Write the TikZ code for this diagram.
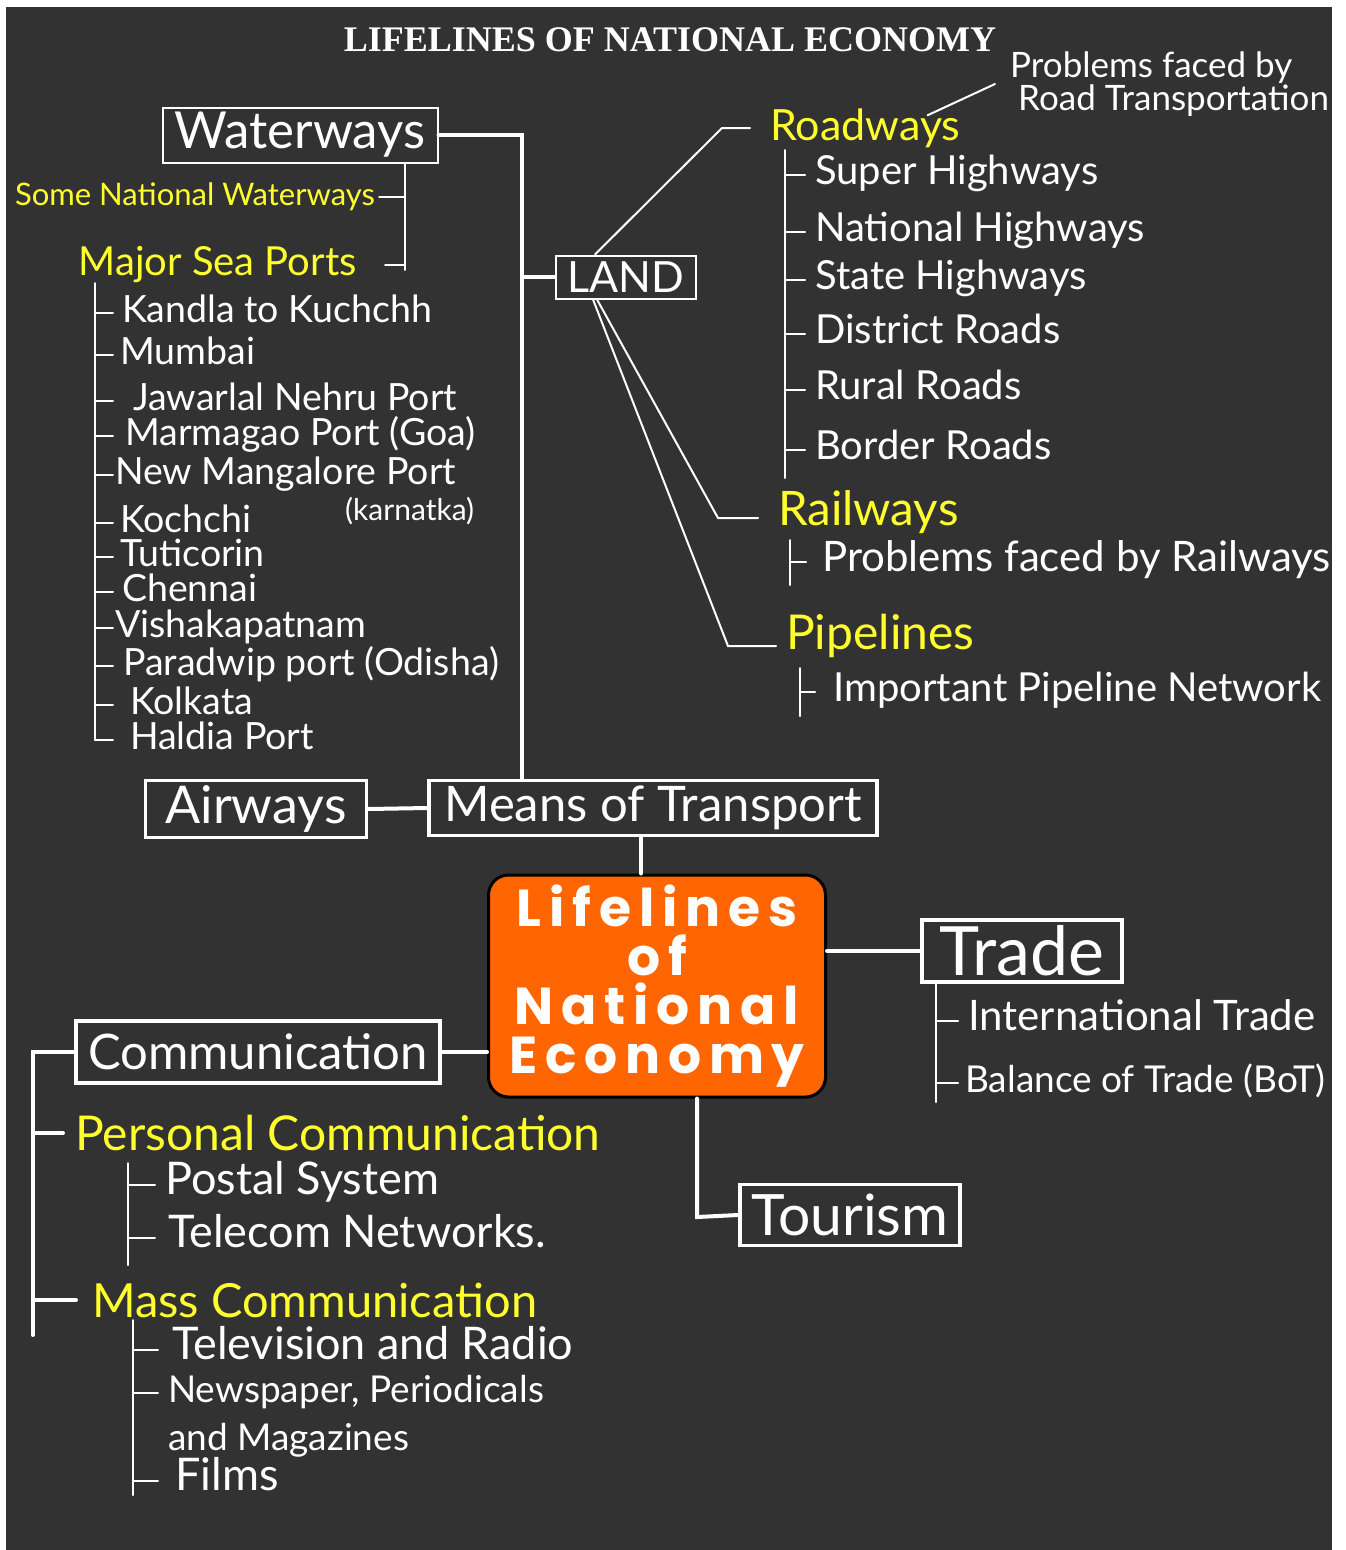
\documentclass[tikz,border=0pt]{standalone}
\usepackage{fontspec}
\setmainfont{Lato}
\newfontfamily\titlefont{Liberation Serif}
\newfontfamily\chalkfont{Poppins}[LetterSpace=15]
\usetikzlibrary{positioning}
\definecolor{board}{HTML}{323232}
\definecolor{chalkyellow}{HTML}{FFFF2E}
\definecolor{boxorange}{HTML}{FF6501}
\newcommand\fsz[1]{\fontsize{#1}{#1}\selectfont}

\begin{document}
\begin{tikzpicture}[x=1pt, y=-1pt, line cap=round,
    box/.style={draw=white, line width=3.5, text=white, inner sep=0pt, font=\fsz{#1}},
    box/.default=50,
    head/.style={anchor=west, inner sep=0pt, text=chalkyellow, font=\fsz{#1}},
    head/.default=46,
    item/.style={anchor=west, inner sep=0pt, text=white, font=\fsz{40}, text height=29, text depth=10},
    port/.style={item, font=\fsz{37.5}, text height=27, text depth=9},
    talk/.style={item, font=\fsz{45}},
    core/.style={fill=boxorange, draw=black, line width=3, rounded corners=20,
        minimum width=337, minimum height=222, align=center, text=white,
        font=\chalkfont\bfseries\fontsize{52}{49}\selectfont},
    trunk/.style={white, line width=4},
    twig/.style={white, line width=2}]
    \fill[white] (0,0) rectangle (1346,1550);
    \fill[board] (6,7) rectangle (1332,1550);
    \useasboundingbox (0,0) rectangle (1346,1550);

    \node[text=white, font=\titlefont\bfseries\fsz{36}] (title) at (670,40) {LIFELINES OF NATIONAL ECONOMY};

    % boxes
    \node[box=51, minimum width=275, minimum height=55, line width=2] (water) at (300,135) {Waterways};
    \node[box=43, minimum width=140, minimum height=43, line width=2] (land) at (626,277) {LAND};
    \node[box=52, minimum width=221, minimum height=57] (air) at (256,809) {Airways};
    \node[box=49, minimum width=448, minimum height=55] (means) at (653,808) {Means of Transport};
    \node[core] (core) at (657,986) {Lifelines\\of\\National\\Economy};
    \node[box=68, minimum width=200, minimum height=62] (trade) at (1022,951) {Trade};
    \node[box=57, minimum width=220, minimum height=61] (tour) at (850,1215) {Tourism};
    \node[box=49, minimum width=364, minimum height=62] (comm) at (258,1052) {Communication};

    % yellow headings
    \node[head=31, anchor=east] (natwater) at (375,197) {Some National Waterways};
    \node[head=40, anchor=east] (seaports) at (357,265) {Major Sea Ports};
    \node[head=43] (roadways) at (770,128) {Roadways};
    \node[head=47.5] (railways) at (778,512) {Railways};
    \node[head=48] (pipelines) at (786,636) {Pipelines};
    \node[head=48] (personal) at (75,1133) {Personal Communication};
    \node[head=47] (mass) at (92,1300) {Mass Communication};

    \node[anchor=west, inner sep=0pt, text=white, align=left, font=\fontsize{35}{33}\selectfont]
        (roadprob) at (1010,84) {Problems faced by\\\hspace{8pt}Road Transportation};
    \draw[twig] ([shift={(-33,7)}]roadways.north east) -- ([xshift=-15]roadprob.west);

    % trunk lines
    \coordinate (trunkx) at (522,135);
    \draw[trunk] (water.east) -- (trunkx) -- (trunkx |- means.north);
    \draw[trunk] (trunkx |- land.west) -- (land.west);
    \draw[trunk] (air.east) -- (means.west);
    \draw[trunk] ([xshift=-12]means.south) -- ([xshift=-12]means.south |- core.north);
    \draw[trunk] (trade.west -| core.east) -- (trade.west);
    \draw[trunk] (comm.east) -- (comm.east -| core.west);
    \coordinate (tourbend) at (697,1217);
    \draw[trunk] (core.south -| tourbend) -- (tourbend) -- (tour.west);

    % waterways
    \coordinate (wsub) at (405,270);
    \draw[twig] (water.south -| wsub) -- (wsub);
    \draw[twig] ([xshift=4]natwater.east) -- (natwater.east -| wsub);
    \draw[twig] ([xshift=28]seaports.east) -- (seaports.east -| wsub);
    \coordinate (portspine) at (95,283);
    \foreach \y/\x/\txt [count=\i] in {313/122/Kandla to Kuchchh, 355/120/Mumbai,
        401/133/Jawarlal Nehru Port, 436/125/Marmagao Port (Goa), 475/115/New Mangalore Port,
        523/120/Kochchi, 557/120/Tuticorin, 592/122/Chennai, 628/115/Vishakapatnam,
        666/123/Paradwip port (Odisha), 705/130/Kolkata, 740/130/Haldia Port} {
        \node[port] (port\i) at (\x,\y) {\txt};
        \draw[twig] (port\i.west -| portspine) -- ++(18,0);
    }
    \node[anchor=west, inner sep=0pt, text=white, font=\fsz{30}] (karnatka) at (345,511) {(karnatka)};
    \draw[twig] (portspine) -- (portspine |- port12.west);

    % land
    \coordinate (roadbend) at (722,125);
    \coordinate (railbend) at (718,518);
    \coordinate (railend) at (758,518);
    \coordinate (pipebend) at (728,646);
    \coordinate (pipeend) at (776,646);
    \draw[twig] ([xshift=-31]land.north) -- (roadbend |- roadways.west) -- ([xshift=-20]roadways.west);
    \draw[twig] ([xshift=-29]land.south) -- (railbend) -- (railend);
    \draw[twig] ([xshift=-33]land.south) -- (pipebend) -- (pipeend);

    \coordinate (roadspine) at (785,150);
    \foreach \y/\txt [count=\i] in {175/Super Highways, 232/National Highways, 280/State Highways,
        334/District Roads, 390/Rural Roads, 450/Border Roads} {
        \node[item] (road\i) at (815,\y) {\txt};
        \draw[twig] (road\i.west -| roadspine) -- ++(20,0);
    }
    \draw[twig] (roadspine) -- ([yshift=-28]roadspine |- road6.west);

    \node[item, font=\fsz{42}] (railprob) at (822,562) {Problems faced by Railways};
    \coordinate (railspine) at (790,540);
    \draw[twig] (railspine) -- ([yshift=-23]railspine |- railprob.west);
    \draw[twig] (railprob.west -| railspine) -- ++(16,0);

    \node[item] (pipenet) at (833,692) {Important Pipeline Network};
    \coordinate (pipespine) at (800,668);
    \draw[twig] (pipespine) -- ([yshift=-24]pipespine |- pipenet.west);
    \draw[twig] (pipenet.west -| pipespine) -- ++(15,0);

    % trade
    \coordinate (tradespine) at (936,982);
    \foreach \y/\x/\s/\txt [count=\i] in {1021/968/42/International Trade, 1083/965/37/Balance of Trade (BoT)} {
        \node[item, font=\fsz{\s}] (trade\i) at (\x,\y) {\txt};
        \draw[twig] (trade\i.west -| tradespine) -- ++(22,0);
    }
    \draw[twig] (tradespine) -- ([yshift=-19]tradespine |- trade2.west);

    % communication
    \coordinate (commspine) at (33,1335);
    \draw[trunk] (comm.west) -- (comm.west -| commspine) -- (commspine);
    \draw[trunk] (personal.west -| commspine) -- ([xshift=-12]personal.west);
    \draw[trunk] (mass.west -| commspine) -- ([xshift=-16]mass.west);

    \coordinate (perspine) at (128,1163);
    \foreach \y/\x/\txt [count=\i] in {1185/165/Postal System, 1238/168/Telecom Networks.} {
        \node[talk] (pers\i) at (\x,\y) {\txt};
        \draw[twig] (pers\i.west -| perspine) -- ++(27,0);
    }
    \draw[twig] (perspine) -- ([yshift=-27]perspine |- pers2.west);

    \coordinate (massspine) at (133,1320);
    \node[talk] (mass1) at (172,1350) {Television and Radio};
    \node[item, font=\fsz{37}] (mass2) at (168,1393) {Newspaper, Periodicals};
    \node[item, font=\fsz{37}, below=-9 of mass2.south west, anchor=north west] (mass2b) {and Magazines};
    \node[talk] (mass3) at (175,1481) {Films};
    \foreach \i in {1,2,3} {
        \draw[twig] (mass\i.west -| massspine) -- ++(25,0);
    }
    \draw[twig] (massspine) -- ([yshift=-14]massspine |- mass3.west);
\end{tikzpicture}
\end{document}
